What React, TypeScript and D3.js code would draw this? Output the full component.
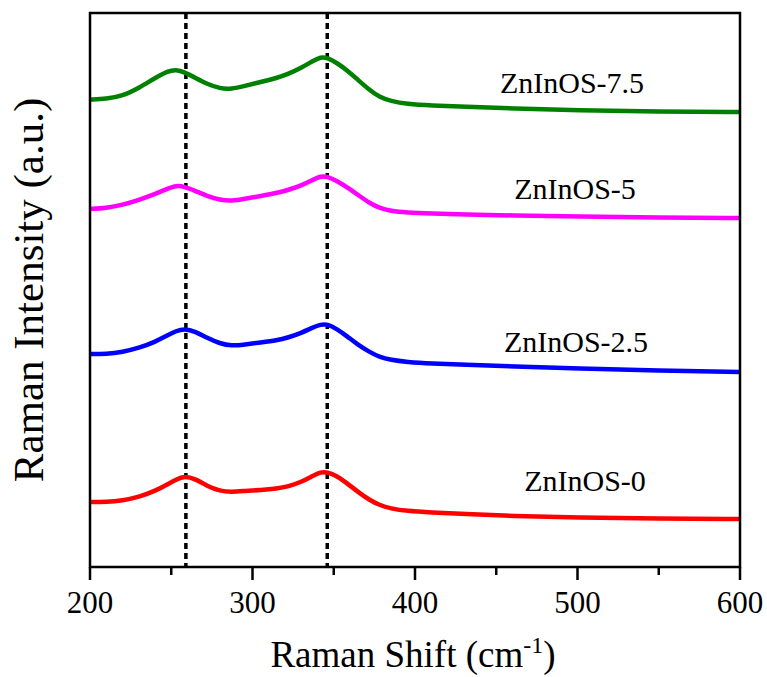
import React from "react";
import * as d3 from "d3";

const wavenumbers = [200, 210, 220, 230, 240, 248, 253, 258, 265, 272, 280, 287, 295, 305, 315, 322, 330, 337, 342, 346, 352, 358, 365, 372, 378, 385, 395, 410, 430, 460, 500, 550, 600];
const zn75 = [467.5, 468, 471, 479, 489, 496, 497.5, 495, 489, 483, 478.5, 478, 481, 485, 489, 493, 499, 506, 510, 509.5, 504, 497, 487, 477, 470, 466, 463, 461.5, 460.5, 458.5, 456.5, 455.5, 455];
const zn5 = [358, 359, 362, 367, 373, 378.5, 381.5, 380.5, 376, 371, 367, 366, 368, 371, 374, 377, 381.5, 387, 391, 390.5, 386, 380, 372, 364, 359, 356, 354.5, 353.5, 352.5, 351.5, 350.5, 349.5, 349];
const zn25 = [213, 213, 215, 219, 225, 232, 236, 238.5, 235.5, 229, 223.5, 221, 222.5, 224.5, 226.5, 229.5, 234, 239.5, 242.5, 243, 238, 231, 222, 215, 210, 207, 205, 203.5, 202.5, 200.5, 198.5, 196.5, 195];
const zn0 = [65, 65, 66.5, 70, 76, 83, 87.5, 91, 88, 81, 76, 75, 76, 77, 78.5, 80.5, 85, 91, 95, 95, 91, 84, 75, 67, 62, 58.5, 56, 54.5, 53, 51, 49.5, 48.5, 48];
const seriesNames = ["ZnInOS-7.5", "ZnInOS-5", "ZnInOS-2.5", "ZnInOS-0"];
const seriesColors = ["#008000", "#ff00ff", "#0000ff", "#ff0000"];
const labelPos = [[572, 474], [575, 368], [576, 215], [585, 76]];
const xTicks = [200, 300, 400, 500, 600];
const xMinor = [250, 350, 450, 550];
const refLines = [259, 346];

export default function App() {
  const W = 767, H = 677;
  const left = 90, right = 740, top = 13, bottom = 567;
  const x = d3.scaleLinear().domain([200, 600]).range([left, right]);
  const y = d3.scaleLinear().domain([0, 554]).range([bottom, top]);
  const all = [zn75, zn5, zn25, zn0];
  const line = d3.line<number>()
    .x((_, i) => x(wavenumbers[i]))
    .y((d) => y(d))
    .curve(d3.curveBasis);
  const font = "Liberation Serif, Times New Roman, serif";
  return (
    <svg width={W} height={H} style={{ position: "absolute", left: 0, top: 0, background: "#fff", fontFamily: font }}>
      {refLines.map((r) => (
        <line key={r} x1={x(r)} x2={x(r)} y1={top} y2={bottom} stroke="#000" strokeWidth={3.5} strokeDasharray="6,4" />
      ))}
      {all.map((s, i) => (
        <path key={i} d={line(s) || ""} fill="none" stroke={seriesColors[i]} strokeWidth={4.5} strokeLinejoin="round" />
      ))}
      {seriesNames.map((n, i) => (
        <text key={n} x={labelPos[i][0]} y={y(labelPos[i][1])} textAnchor="middle" fontSize={30} fill="#000" style={{ fontFamily: font }}>{n}</text>
      ))}
      <rect x={left} y={top} width={right - left} height={bottom - top} fill="none" stroke="#000" strokeWidth={2.5} />
      {xTicks.map((t) => (
        <g key={t}>
          <line x1={x(t)} x2={x(t)} y1={bottom} y2={bottom + 13} stroke="#000" strokeWidth={2.5} />
          <text x={x(t)} y={613} textAnchor="middle" fontSize={31} fill="#000" style={{ fontFamily: font }}>{t}</text>
        </g>
      ))}
      {xMinor.map((t) => (
        <line key={t} x1={x(t)} x2={x(t)} y1={bottom} y2={bottom + 8} stroke="#000" strokeWidth={2.5} />
      ))}
      <text x={413} y={667} textAnchor="middle" fontSize={37} fill="#000" style={{ fontFamily: font }}>
        Raman Shift (cm<tspan dy={-14} fontSize={24}>-1</tspan><tspan dy={14}>)</tspan>
      </text>
      <text transform={`translate(43,${(top + bottom) / 2}) rotate(-90)`} textAnchor="middle" fontSize={43} fill="#000" style={{ fontFamily: font }}>
        Raman Intensity (a.u.)
      </text>
    </svg>
  );
}
